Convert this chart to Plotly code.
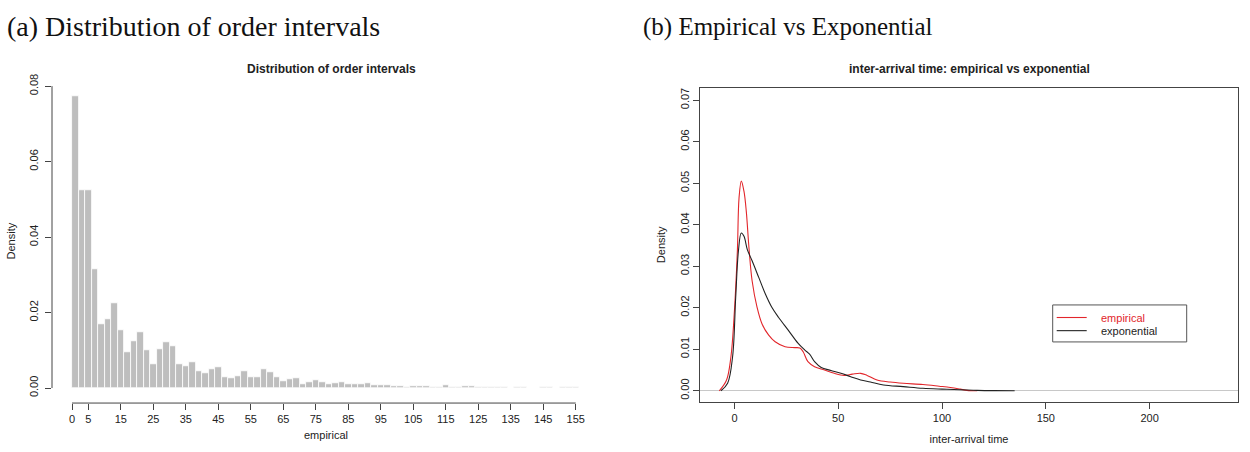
import plotly.graph_objects as go

W, H = 1250, 452

# ---------------- data ----------------
# (a) histogram of order intervals: bins of width 2 starting at 0
bin_width = 2
bin_start = 0
hist_density = [
    0.0773, 0.0525, 0.0524, 0.0316, 0.0170, 0.0182, 0.0226, 0.0153, 0.0095, 0.0125,
    0.0148, 0.0099, 0.0063, 0.0102, 0.0122, 0.0110, 0.0064, 0.0059, 0.0068, 0.0045,
    0.0039, 0.0049, 0.0056, 0.0030, 0.0026, 0.0032, 0.0045, 0.0030, 0.0028, 0.0050,
    0.0041, 0.0028, 0.0019, 0.0024, 0.0025, 0.0009, 0.0015, 0.0021, 0.0015, 0.0010,
    0.0014, 0.0016, 0.0009, 0.0010, 0.0010, 0.0012, 0.0008, 0.0007, 0.0007, 0.00044,
    0.0006, 0.00035, 0.0006, 0.0005, 0.0005, 0.00026, 0.00035, 0.0008, 0.00026, 0.00026,
    0.0005, 0.0004, 0.0001, 0.0001, 0.0001, 0.0001, 0.0001, 0.0, 0.00026, 0.00026,
    0.0, 0.0, 0.00026, 0.0002, 0.0, 0.0002, 0.0002, 0.0002,
]
hist_centers = [bin_start + bin_width * (i + 0.5) for i in range(len(hist_density))]
hist_xticks = [0, 5, 15, 25, 35, 45, 55, 65, 75, 85, 95, 105, 115, 125, 135, 145, 155]
hist_yticks = [0.00, 0.02, 0.04, 0.06, 0.08]

# (b) density curves
emp_x = [-7.3, -3.8, -1.7, -0.2, 1.4, 2.2, 3.3, 4.6, 5.7, 7.0, 8.5, 10.9, 13.3, 16.5,
         19.6, 24.4, 29.1, 31.5, 33.1, 35.4, 38.6, 43.4, 48.1, 52.8, 56.8, 60.8, 63.9,
         68.7, 75.0, 81.3, 90.8, 98.6, 104.0, 108.8, 112.0, 117.0]
emp_y = [0.0, 0.0026, 0.0082, 0.0177, 0.0336, 0.0464, 0.0505, 0.0480, 0.0432, 0.0344,
         0.0265, 0.0201, 0.0161, 0.0134, 0.0118, 0.0106, 0.0104, 0.0103, 0.0094, 0.0070,
         0.0058, 0.0050, 0.0042, 0.0037, 0.0040, 0.0042, 0.0037, 0.0026, 0.0021, 0.0018,
         0.0015, 0.0011, 0.0008, 0.0004, 0.0001, 0.0]
exp_x = [-6.5, -3.3, -0.9, 0.6, 1.9, 3.3, 4.6, 6.2, 8.5, 11.7, 14.9, 18.0, 21.2, 25.9,
         30.7, 33.9, 36.2, 38.6, 41.8, 46.5, 51.3, 56.0, 60.8, 65.5, 71.8, 81.3, 90.8,
         100.0, 109.0, 117.0, 125.0, 135.0]
exp_y = [0.0, 0.0018, 0.0082, 0.0225, 0.0336, 0.0380, 0.0372, 0.0340, 0.0313, 0.0273,
         0.0233, 0.0201, 0.0177, 0.0146, 0.0114, 0.0098, 0.0088, 0.0070, 0.0056, 0.0049,
         0.0042, 0.0034, 0.0026, 0.0021, 0.0014, 0.0010, 0.0006, 0.0004, 0.00025, 0.0001,
         0.00003, 0.0]
dens_xticks = [0, 50, 100, 150, 200]
dens_yticks = [0.00, 0.01, 0.02, 0.03, 0.04, 0.05, 0.06, 0.07]
series_names = ["empirical", "exponential"]
series_colors = ["#e2262b", "#222222"]

# ---------------- helpers ----------------
def px_x(p):
    return p / W

def px_y(p):
    return (H - p) / H

FONT = "Liberation Sans, Arial, sans-serif"
SERIF = "Liberation Serif, Times New Roman, serif"
TXT = "#222222"
AX = "#444444"

fig = go.Figure()

fig.add_trace(go.Bar(
    x=hist_centers, y=hist_density, width=bin_width,
    marker=dict(color="#bebebe", line=dict(color="white", width=0.8)),
    xaxis="x", yaxis="y", showlegend=False,
))

for xs, ys, nm, col in [(emp_x, emp_y, series_names[0], series_colors[0]),
                        (exp_x, exp_y, series_names[1], series_colors[1])]:
    fig.add_trace(go.Scatter(
        x=xs, y=ys, mode="lines", line=dict(color=col, width=1.1, shape="spline"),
        name=nm, xaxis="x2", yaxis="y2", showlegend=False,
    ))

# ---------------- axes ----------------
tickfont = dict(family=FONT, size=11, color=TXT)
common = dict(showgrid=False, ticks="outside", ticklen=6,
              tickcolor=AX, tickwidth=1, tickfont=tickfont, fixedrange=True)

fig.update_layout(
    width=W, height=H,
    margin=dict(l=0, r=0, t=0, b=0),
    paper_bgcolor="white", plot_bgcolor="white",
    bargap=0, showlegend=False,
    xaxis=dict(domain=[px_x(52), px_x(600)], range=[(52 - 72) / 3.25, (600 - 72) / 3.25],
               tickmode="array", tickvals=hist_xticks, showline=False, anchor="y", zeroline=False,
               title=dict(text="empirical", font=dict(family=FONT, size=11, color=TXT), standoff=7),
               **common),
    yaxis=dict(domain=[px_y(402.5), px_y(75)], range=[-(402.5 - 387.3) / 3816, (387.3 - 75) / 3816],
               tickmode="array", tickvals=hist_yticks, ticktext=[f"{v:.2f}" for v in hist_yticks],
               tickangle=-90, showline=False, anchor="x", zeroline=False, ticklabelstandoff=3,
               title=dict(text="Density", font=dict(family=FONT, size=11, color=TXT), standoff=9),
               **common),
    xaxis2=dict(domain=[px_x(700), px_x(1238)], range=[-16.6, 242.6],
                tickmode="array", tickvals=dens_xticks, showline=True, mirror=True,
                linecolor=AX, linewidth=1, anchor="y2", zeroline=False,
                title=dict(text="inter-arrival time", font=dict(family=FONT, size=11, color=TXT), standoff=12),
                **common),
    yaxis2=dict(domain=[px_y(401), px_y(84)], range=[-0.0026, 0.0729],
                tickmode="array", tickvals=dens_yticks, ticktext=[f"{v:.2f}" for v in dens_yticks],
                tickangle=-90, showline=True, mirror=True, linecolor=AX, linewidth=1, anchor="x2",
                zeroline=True, zerolinecolor="#c8c8c8", zerolinewidth=1,
                title=dict(text="Density", font=dict(family=FONT, size=11, color=TXT), standoff=10),
                **common),
)

# R-style axis lines for the histogram (span first to last tick only)
fig.add_shape(type="line", xref="x", yref="y domain", x0=hist_xticks[0], x1=hist_xticks[-1],
              y0=0, y1=0, line=dict(color=AX, width=1))
fig.add_shape(type="line", xref="x domain", yref="y", x0=0, x1=0,
              y0=hist_yticks[0], y1=hist_yticks[-1], line=dict(color=AX, width=1))

# R-style legend box for panel (b)
leg_left, leg_right, leg_top, leg_bottom = 1052.7, 1186.7, 303.3, 340.7
row_y = [316.0, 329.3]
fig.add_shape(type="rect", xref="paper", yref="paper",
              x0=px_x(leg_left), x1=px_x(leg_right), y0=px_y(leg_bottom), y1=px_y(leg_top),
              line=dict(color="#555555", width=1), fillcolor="white", layer="above")
for i, (nm, col) in enumerate(zip(series_names, series_colors)):
    fig.add_shape(type="line", xref="paper", yref="paper",
                  x0=px_x(1056.7), x1=px_x(1086.7), y0=px_y(row_y[i]), y1=px_y(row_y[i]),
                  line=dict(color=col, width=1.1), layer="above")
    fig.add_annotation(text=nm, xref="paper", yref="paper", x=px_x(1099), y=px_y(row_y[i]),
                       xanchor="left", yanchor="middle", showarrow=False,
                       font=dict(family=FONT, size=11, color=col if i == 0 else TXT))

# titles
fig.add_annotation(text="(a) Distribution of order intervals", xref="paper", yref="paper",
                   x=px_x(5), y=px_y(22), xanchor="left", yanchor="middle", showarrow=False,
                   font=dict(family=SERIF, size=28, color="#111111"))
fig.add_annotation(text="(b) Empirical vs Exponential", xref="paper", yref="paper",
                   x=px_x(641), y=px_y(22), xanchor="left", yanchor="middle", showarrow=False,
                   font=dict(family=SERIF, size=25, color="#111111"))
fig.add_annotation(text="<b>Distribution of order intervals</b>", xref="paper", yref="paper",
                   x=px_x(331), y=px_y(65), xanchor="center", yanchor="middle", showarrow=False,
                   font=dict(family=FONT, size=12, color=TXT))
fig.add_annotation(text="<b>inter-arrival time: empirical vs exponential</b>", xref="paper", yref="paper",
                   x=px_x(969), y=px_y(65), xanchor="center", yanchor="middle", showarrow=False,
                   font=dict(family=FONT, size=12, color=TXT))

fig.write_html("out.html")
